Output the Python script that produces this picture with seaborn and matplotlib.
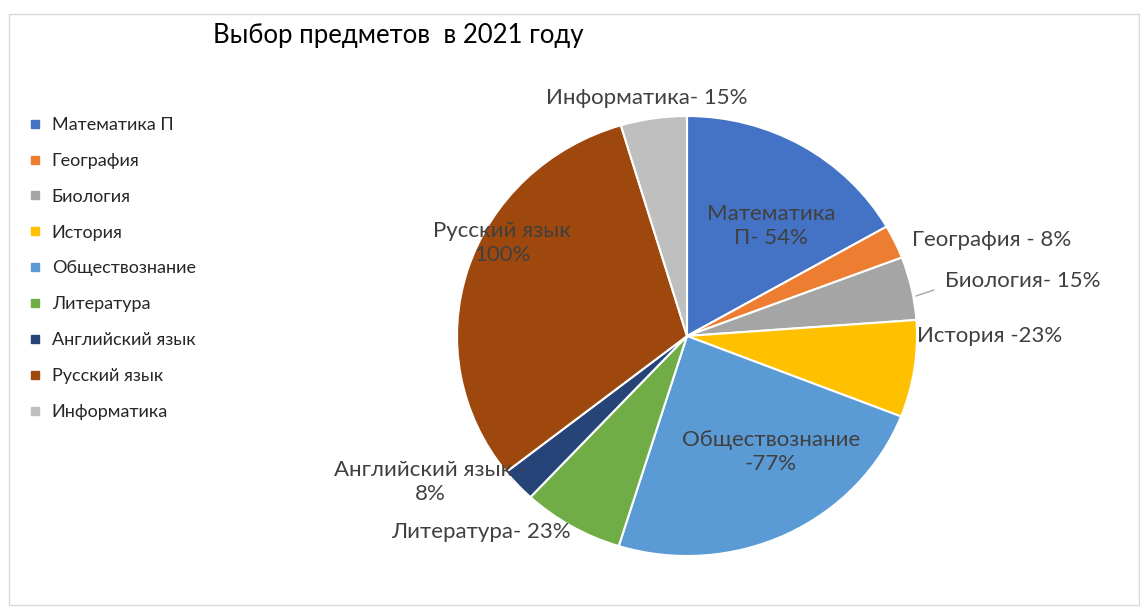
import matplotlib
matplotlib.use('Agg')
import matplotlib.pyplot as plt
import seaborn as sns
from matplotlib.lines import Line2D
from matplotlib.patches import Rectangle

sns.set_theme(style='white')
plt.rcParams['font.family'] = ['Lato', 'DejaVu Sans']

W, H = 1140, 609

# data
subjects = ['Математика П', 'География', 'Биология', 'История', 'Обществознание',
            'Литература', 'Английский язык', 'Русский язык', 'Информатика']
percents = [54, 8, 15, 23, 77, 23, 8, 100, 15]
colors = ['#4472C4', '#ED7D31', '#A5A5A5', '#FFC000', '#5B9BD5',
          '#70AD47', '#264478', '#9E480E', '#BFBFBF']
label_texts = ['Математика\nП- 54%', 'География - 8%', 'Биология- 15%', 'История -23%',
               'Обществознание\n-77%', 'Литература- 23%', 'Английский язык -\n8%',
               'Русский язык\n100%', 'Информатика- 15%']
# label centres in pixels (as placed by hand in the original)
label_px = [(771, 226), (992, 240), (1023, 281), (990, 336), (771, 452),
            (481, 532), (430, 482), (502, 243), (647, 98)]

fig = plt.figure(figsize=(W / 100, H / 100), dpi=100)
fig.patch.set_facecolor('white')

# outer frame
fig.patches.append(Rectangle((9 / W, 1 - 605 / H), 1130 / W, 591 / H,
                             transform=fig.transFigure, fill=False,
                             edgecolor='#D9D9D9', linewidth=1))

# pie: centre (687, 336), rx 230, ry 220
cx, cy, rx, ry = 687, 336, 230, 220
ax = fig.add_axes([(cx - rx) / W, (H - cy - ry) / H, 2 * rx / W, 2 * ry / H])
wedges, _ = ax.pie(percents, colors=colors, startangle=90, counterclock=False,
                   wedgeprops=dict(edgecolor='white', linewidth=1.5))
ax.set_aspect('auto')
ax.set_xlim(-1, 1)
ax.set_ylim(-1, 1)
ax.axis('off')

for txt, (px, py) in zip(label_texts, label_px):
    fig.text(px / W, 1 - py / H, txt, ha='center', va='center',
             fontsize=16, color='#404040', linespacing=1.2)

# leader line for Биология
fig.add_artist(Line2D([916 / W, 934 / W], [1 - 296 / H, 1 - 290 / H],
                      color='#A6A6A6', linewidth=1))

fig.text(213 / W, 1 - 35 / H, 'Выбор предметов  в 2021 году', ha='left',
         va='center', fontsize=18.5, color='black')

handles = [Line2D([], [], marker='s', linestyle='', markersize=6,
                  markerfacecolor=c, markeredgecolor=c) for c in colors]
fig.legend(handles, subjects, loc='upper left', bbox_to_anchor=(30 / W, 1 - 117 / H),
           frameon=False, fontsize=13, handlelength=0.6, handletextpad=0.6,
           labelspacing=1.1, borderpad=0, borderaxespad=0)

fig.savefig('out.png', dpi=100)
